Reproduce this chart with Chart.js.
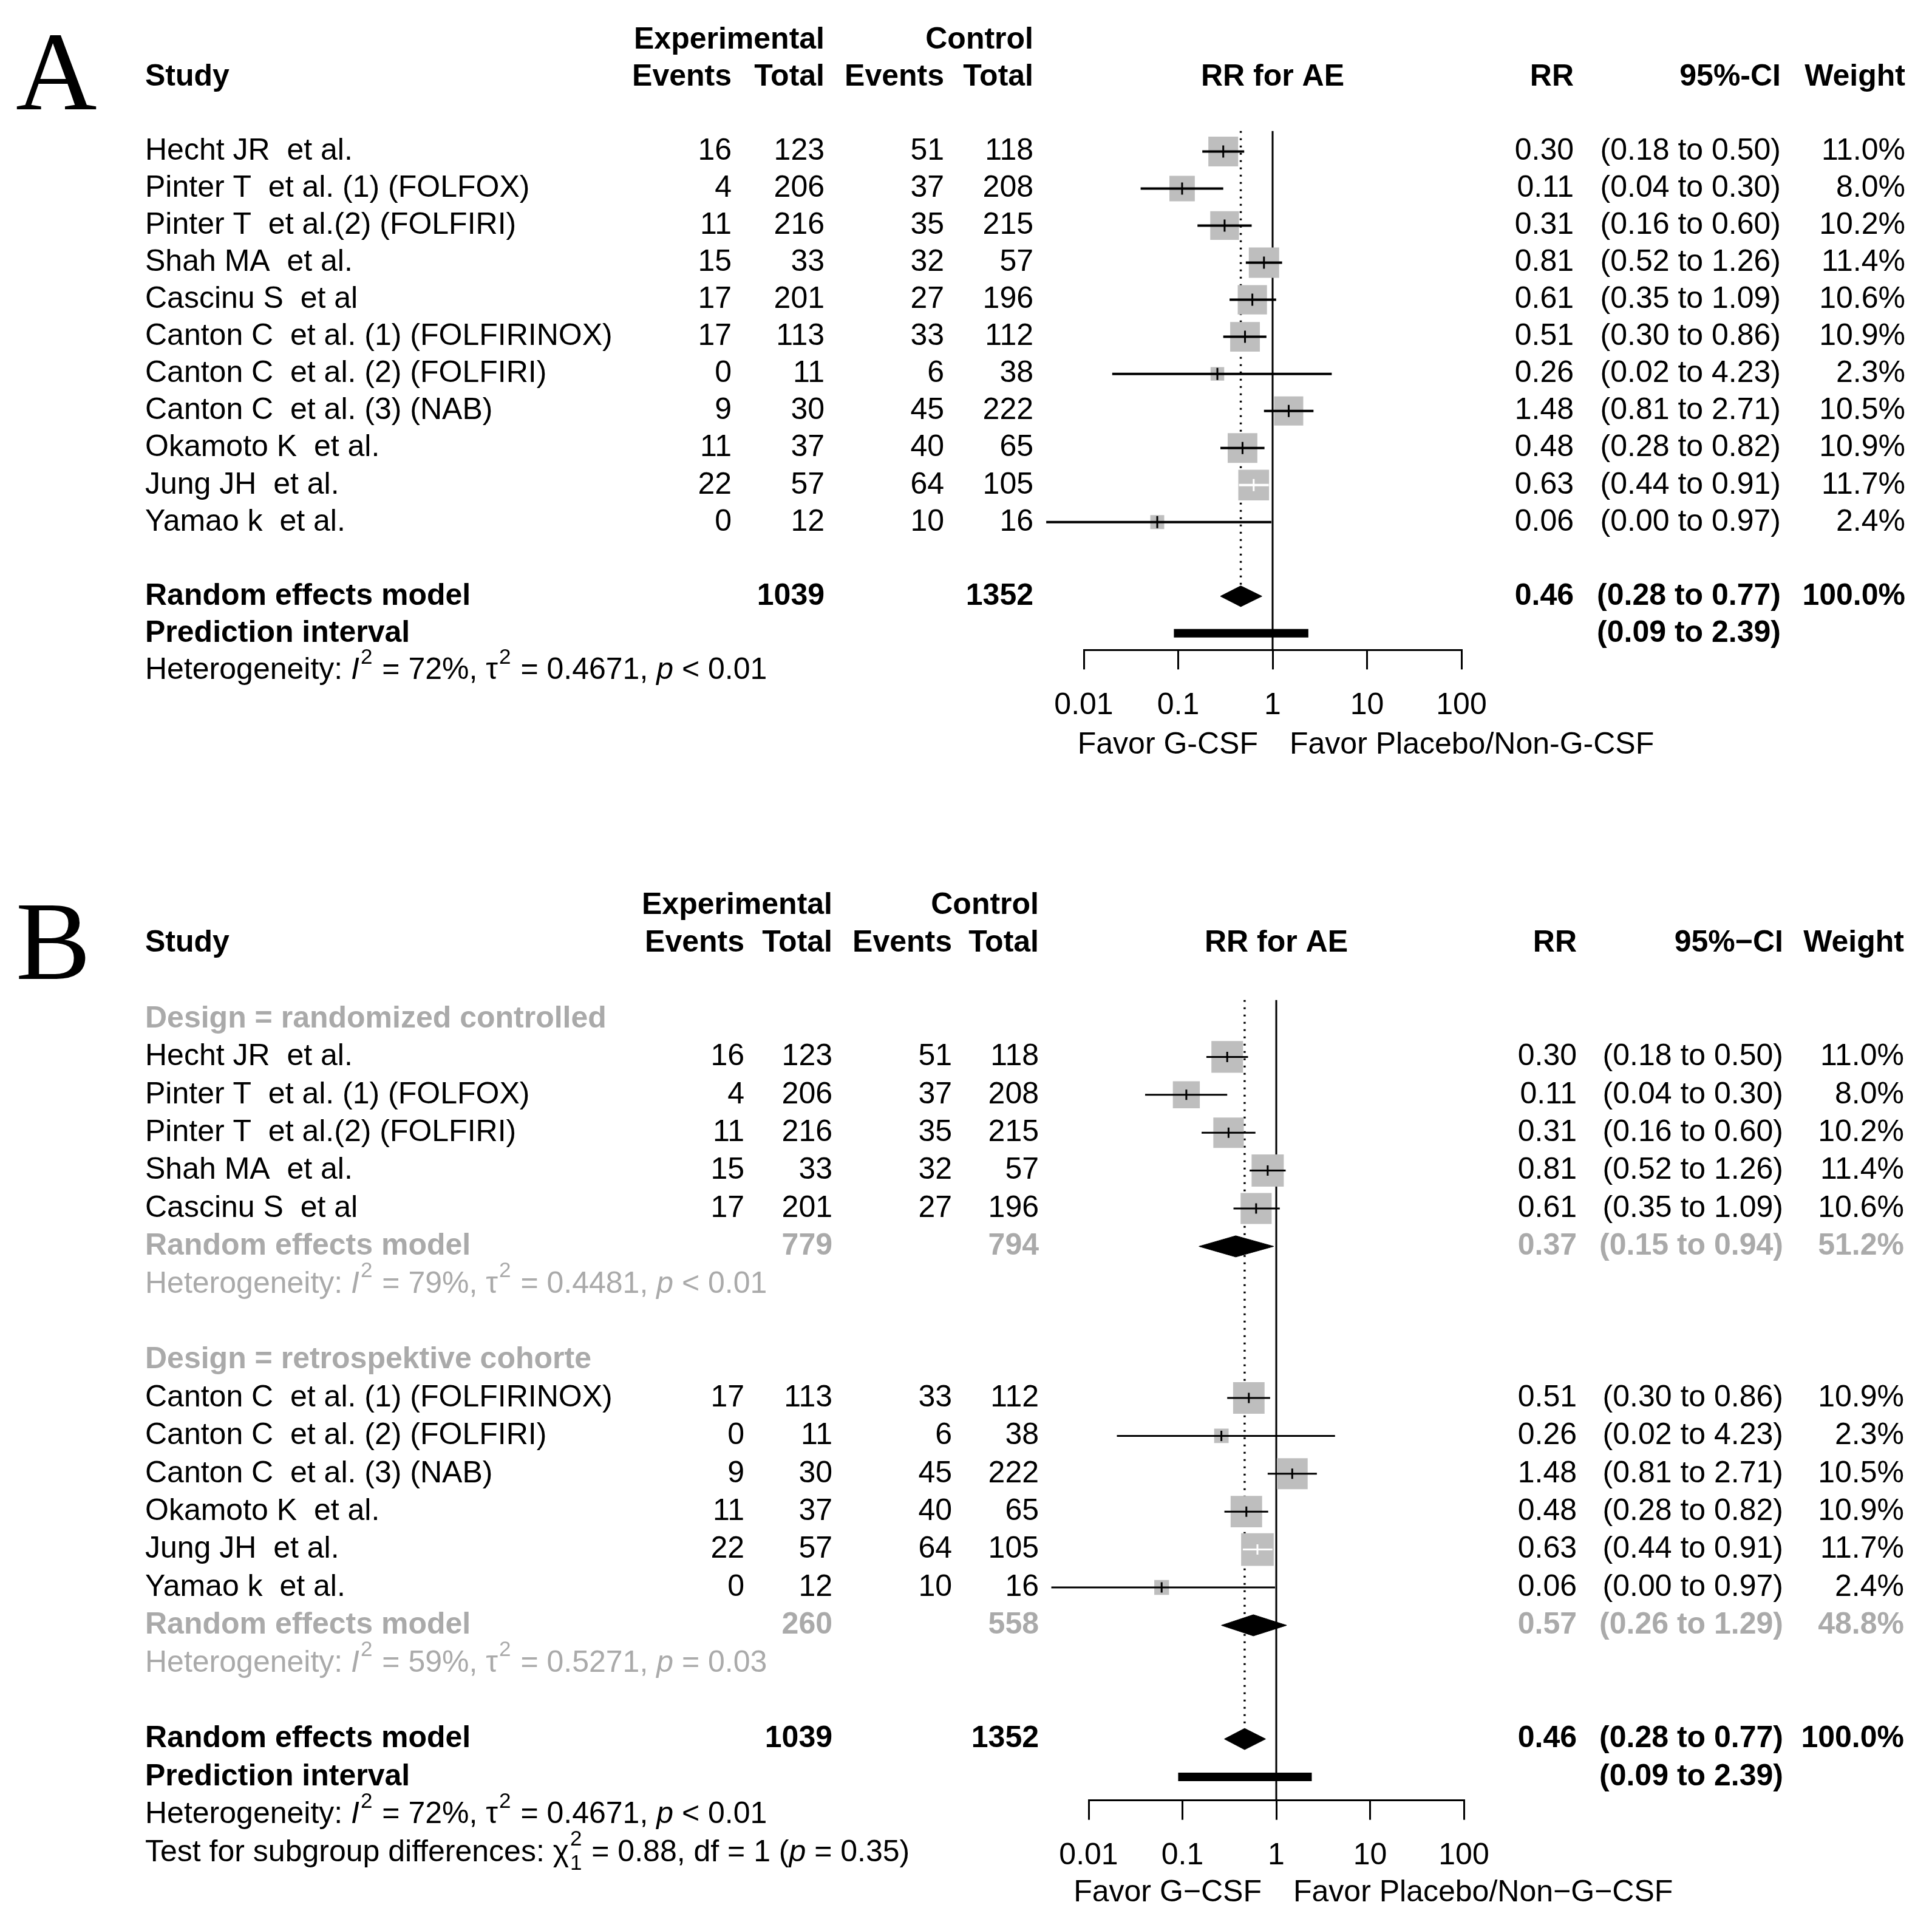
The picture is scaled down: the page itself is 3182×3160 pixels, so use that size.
<!DOCTYPE html>
<html>
<head>
<meta charset="utf-8">
<script src="https://cdn.jsdelivr.net/npm/chart.js@4.4.1/dist/chart.umd.min.js"></script>
<style>
  html, body { margin: 0; padding: 0; background: #fff; }
  canvas { position: absolute; left: 0; }
  #chart-a { top: 0; }
  #chart-b { top: 1420px; }
</style>
</head>
<body>
<canvas id="chart-a" width="3182" height="1420"></canvas>
<canvas id="chart-b" width="3182" height="1740"></canvas>
<script>
// study level data
const studies = [
	"Hecht JR  et al.",
	"Pinter T  et al. (1) (FOLFOX)",
	"Pinter T  et al.(2) (FOLFIRI)",
	"Shah MA  et al.",
	"Cascinu S  et al",
	"Canton C  et al. (1) (FOLFIRINOX)",
	"Canton C  et al. (2) (FOLFIRI)",
	"Canton C  et al. (3) (NAB)",
	"Okamoto K  et al.",
	"Jung JH  et al.",
	"Yamao k  et al.",
];
const expEvents = [16, 4, 11, 15, 17, 17, 0, 9, 11, 22, 0];
const expTotal = [123, 206, 216, 33, 201, 113, 11, 30, 37, 57, 12];
const ctrlEvents = [51, 37, 35, 32, 27, 33, 6, 45, 40, 64, 10];
const ctrlTotal = [118, 208, 215, 57, 196, 112, 38, 222, 65, 105, 16];
const rr = [0.3, 0.11, 0.31, 0.81, 0.61, 0.51, 0.26, 1.48, 0.48, 0.63, 0.06];
const ciLow = [0.18, 0.04, 0.16, 0.52, 0.35, 0.3, 0.02, 0.81, 0.28, 0.44, 0.004];
const ciHigh = [0.5, 0.3, 0.6, 1.26, 1.09, 0.86, 4.23, 2.71, 0.82, 0.91, 0.97];
const weights = [11.0, 8.0, 10.2, 11.4, 10.6, 10.9, 2.3, 10.5, 10.9, 11.7, 2.4];

// pooled results
const overallRR = 0.46;
const overallLow = 0.28;
const overallHigh = 0.77;
const predLow = 0.09;
const predHigh = 2.39;
const totalExp = 1039;
const totalCtrl = 1352;

// subgroups (panel B)
const subgroupLabels = ["Design = randomized controlled", "Design = retrospektive cohorte"];
const subgroupRR = [0.37, 0.57];
const subgroupLow = [0.15, 0.26];
const subgroupHigh = [0.94, 1.29];
const subgroupWeight = [51.2, 48.8];
const subgroupExpTotal = [779, 260];
const subgroupCtrlTotal = [794, 558];

// heterogeneity: overall, randomized, cohort
const hetI2 = ["72%", "79%", "59%"];
const hetTau2 = ["0.4671", "0.4481", "0.5271"];
const hetP = ["< 0.01", "< 0.01", "= 0.03"];
const subgroupTest = { chi2: "0.88", df: "1", p: "0.35" };

const tickValues = [0.01, 0.1, 1, 10, 100];
const tickLabels = ["0.01", "0.1", "1", "10", "100"];

const FONT = '"Liberation Sans", Arial, sans-serif';
const FS = 50;
const GREY = "#aaaaaa";
const SQUARE = "#bebebe";

const panelA = {
	canvas: "chart-a",
	letter: "A",
	letterY: 180,
	yMin: -3.5,
	yMax: 13.45,
	rowPx: 61.2,
	padTop: 33,
	height: 1420,
	left: 1785,
	right: 2407,
	studyRows: [0, 1, 2, 3, 4, 5, 6, 7, 8, 9, 10],
	overallRow: 12,
	predRow: 13,
	hetRow: 14,
	nullTop: -0.55,
	squareK: 14.8,
	tickR: 10,
	lineW: 4,
	cols: { name: 239, expEv: 1205, expTot: 1358, ctrlEv: 1555, ctrlTot: 1702, rr: 2592, ci: 2933, w: 3138 },
	dash: "-",
	favorY: 157,
};

const panelB = {
	canvas: "chart-b",
	letter: "B",
	letterY: 192,
	yMin: -3.5,
	yMax: 20.62,
	rowPx: 62.4,
	padTop: 39.6,
	height: 1740,
	left: 1793,
	right: 2411,
	studyRows: [1, 2, 3, 4, 5, 10, 11, 12, 13, 14, 15],
	labelRows: [0, 9],
	subRows: [6, 16],
	subHetRows: [7, 17],
	overallRow: 19,
	predRow: 20,
	hetRow: 21,
	testRow: 22,
	nullTop: -0.5,
	squareK: 15.7,
	tickR: 8.5,
	lineW: 3,
	cols: { name: 239, expEv: 1226, expTot: 1371, ctrlEv: 1568, ctrlTot: 1711, rr: 2597, ci: 2937, w: 3136 },
	dash: "\u2212",
	favorY: 153,
};

const DIAMOND_H = 0.28;

const fmtCI = (lo, hi) => "(" + lo.toFixed(2) + " to " + hi.toFixed(2) + ")";

function txt(ctx, s, x, y, align, bold, color) {
	ctx.save();
	ctx.font = (bold ? "bold " : "") + FS + "px " + FONT;
	ctx.fillStyle = color || "#000";
	ctx.textAlign = align;
	ctx.textBaseline = "middle";
	ctx.fillText(s, x, y);
	ctx.restore();
}

// segments: [text, kind] kind = n | i | sup | ss (sup + sub)
function richText(ctx, segs, x, y, color) {
	ctx.save();
	ctx.fillStyle = color || "#000";
	ctx.textBaseline = "middle";
	ctx.textAlign = "left";
	let cx = x;
	segs.forEach((seg) => {
		const [t, kind, t2] = seg;
		if (kind == "n" || kind == "i") {
			ctx.font = (kind == "i" ? "italic " : "") + FS + "px " + FONT;
			ctx.fillText(t, cx, y);
			cx += ctx.measureText(t).width;
		} else {
			ctx.font = Math.round(FS * 0.7) + "px " + FONT;
			ctx.fillText(t, cx + 2, y - FS * 0.42);
			let w = ctx.measureText(t).width;
			if (kind == "ss") {
				ctx.fillText(t2, cx + 2, y + FS * 0.38);
				w = Math.max(w, ctx.measureText(t2).width);
			}
			cx += w + 4;
		}
	});
	ctx.restore();
}

function hetSegs(k) {
	return [
		["Heterogeneity: ", "n"],
		["I", "i"],
		["2", "sup"],
		[" = " + hetI2[k] + ", \u03c4", "n"],
		["2", "sup"],
		[" = " + hetTau2[k] + ", ", "n"],
		["p", "i"],
		[" " + hetP[k], "n"],
	];
}

function squareSide(p, i) {
	return p.squareK * Math.sqrt(weights[i]);
}

// CI drawn white where it sits wholly inside its square
function insideColor(p, i, chart) {
	const x = chart.scales.x;
	const c = x.getPixelForValue(rr[i]);
	const half = squareSide(p, i) / 2;
	const l = x.getPixelForValue(ciLow[i]);
	const h = x.getPixelForValue(ciHigh[i]);
	return l >= c - half && h <= c + half ? "#fff" : "#000";
}

function diamond(est, lo, hi, row) {
	return {
		data: [
			{ x: lo, y: row },
			{ x: est, y: row - DIAMOND_H },
			{ x: hi, y: row },
			{ x: est, y: row + DIAMOND_H },
			{ x: lo, y: row },
		],
		showLine: true,
		fill: "shape",
		backgroundColor: "#000",
		borderColor: "#000",
		borderWidth: 1,
		pointRadius: 0,
		order: 1,
		clip: false,
	};
}

function buildDatasets(p) {
	const ds = [];
	ds.push({
		data: [{ x: 1, y: p.nullTop }, { x: 1, y: p.yMax }],
		showLine: true,
		borderColor: "#000",
		borderWidth: 3,
		pointRadius: 0,
		order: 10,
	});
	ds.push({
		data: [{ x: overallRR, y: p.nullTop }, { x: overallRR, y: p.overallRow - DIAMOND_H }],
		showLine: true,
		borderColor: "#000",
		borderWidth: 3.5,
		borderDash: [3, 9],
		pointRadius: 0,
		order: 10,
	});
	ds.push({
		data: studies.map((s, i) => ({ x: rr[i], y: p.studyRows[i] })),
		pointStyle: "rect",
		pointRadius: (ctx) => squareSide(p, ctx.dataIndex) / Math.SQRT2,
		backgroundColor: SQUARE,
		borderWidth: 0,
		order: 3,
	});
	studies.forEach((s, i) => {
		ds.push({
			data: [{ x: ciLow[i], y: p.studyRows[i] }, { x: ciHigh[i], y: p.studyRows[i] }],
			showLine: true,
			borderColor: (ctx) => insideColor(p, i, ctx.chart),
			borderWidth: p.lineW,
			pointRadius: 0,
			order: 2,
			clip: false,
		});
	});
	ds.push({
		data: studies.map((s, i) => ({ x: rr[i], y: p.studyRows[i] })),
		pointStyle: "line",
		rotation: 90,
		pointRadius: p.tickR,
		pointBorderWidth: 3,
		pointBorderColor: (ctx) => insideColor(p, ctx.dataIndex, ctx.chart),
		order: 1,
	});
	if (p.subRows) {
		p.subRows.forEach((r, k) => {
			ds.push(diamond(subgroupRR[k], subgroupLow[k], subgroupHigh[k], r));
		});
	}
	ds.push(diamond(overallRR, overallLow, overallHigh, p.overallRow));
	ds.push({
		data: [{ x: predLow, y: p.predRow }, { x: predHigh, y: p.predRow }],
		showLine: true,
		borderColor: "#000",
		borderWidth: 14,
		borderCapStyle: "butt",
		pointRadius: 0,
		order: 1,
	});
	return ds;
}

function drawPanelText(chart, p) {
	const ctx = chart.ctx;
	const Y = (r) => chart.scales.y.getPixelForValue(r);
	const X = (v) => chart.scales.x.getPixelForValue(v);
	const c = p.cols;

	ctx.save();
	ctx.font = "185px \"Liberation Serif\", \"Times New Roman\", serif";
	ctx.fillStyle = "#000";
	ctx.textBaseline = "alphabetic";
	ctx.fillText(p.letter, 26, p.letterY);
	ctx.restore();

	// headers
	txt(ctx, "Experimental", c.expTot, Y(-3), "right", true);
	txt(ctx, "Control", c.ctrlTot, Y(-3), "right", true);
	txt(ctx, "Study", c.name, Y(-2), "left", true);
	txt(ctx, "Events", c.expEv, Y(-2), "right", true);
	txt(ctx, "Total", c.expTot, Y(-2), "right", true);
	txt(ctx, "Events", c.ctrlEv, Y(-2), "right", true);
	txt(ctx, "Total", c.ctrlTot, Y(-2), "right", true);
	txt(ctx, "RR for AE", X(1), Y(-2), "center", true);
	txt(ctx, "RR", c.rr, Y(-2), "right", true);
	txt(ctx, "95%" + p.dash + "CI", c.ci, Y(-2), "right", true);
	txt(ctx, "Weight", c.w, Y(-2), "right", true);

	studies.forEach((s, i) => {
		const y = Y(p.studyRows[i]);
		txt(ctx, s, c.name, y, "left");
		txt(ctx, String(expEvents[i]), c.expEv, y, "right");
		txt(ctx, String(expTotal[i]), c.expTot, y, "right");
		txt(ctx, String(ctrlEvents[i]), c.ctrlEv, y, "right");
		txt(ctx, String(ctrlTotal[i]), c.ctrlTot, y, "right");
		txt(ctx, rr[i].toFixed(2), c.rr, y, "right");
		txt(ctx, fmtCI(ciLow[i], ciHigh[i]), c.ci, y, "right");
		txt(ctx, weights[i].toFixed(1) + "%", c.w, y, "right");
	});

	if (p.subRows) {
		p.labelRows.forEach((r, k) => {
			txt(ctx, subgroupLabels[k], c.name, Y(r), "left", true, GREY);
		});
		p.subRows.forEach((r, k) => {
			const y = Y(r);
			txt(ctx, "Random effects model", c.name, y, "left", true, GREY);
			txt(ctx, String(subgroupExpTotal[k]), c.expTot, y, "right", true, GREY);
			txt(ctx, String(subgroupCtrlTotal[k]), c.ctrlTot, y, "right", true, GREY);
			txt(ctx, subgroupRR[k].toFixed(2), c.rr, y, "right", true, GREY);
			txt(ctx, fmtCI(subgroupLow[k], subgroupHigh[k]), c.ci, y, "right", true, GREY);
			txt(ctx, subgroupWeight[k].toFixed(1) + "%", c.w, y, "right", true, GREY);
		});
		p.subHetRows.forEach((r, k) => {
			richText(ctx, hetSegs(k + 1), c.name, Y(r), GREY);
		});
	}

	const yo = Y(p.overallRow);
	txt(ctx, "Random effects model", c.name, yo, "left", true);
	txt(ctx, String(totalExp), c.expTot, yo, "right", true);
	txt(ctx, String(totalCtrl), c.ctrlTot, yo, "right", true);
	txt(ctx, overallRR.toFixed(2), c.rr, yo, "right", true);
	txt(ctx, fmtCI(overallLow, overallHigh), c.ci, yo, "right", true);
	txt(ctx, "100.0%", c.w, yo, "right", true);
	txt(ctx, "Prediction interval", c.name, Y(p.predRow), "left", true);
	txt(ctx, fmtCI(predLow, predHigh), c.ci, Y(p.predRow), "right", true);
	richText(ctx, hetSegs(0), c.name, Y(p.hetRow));
	if (p.testRow) {
		richText(ctx, [
			["Test for subgroup differences: \u03c7", "n"],
			["2", "ss", subgroupTest.df],
			[" = " + subgroupTest.chi2 + ", df = " + subgroupTest.df + " (", "n"],
			["p", "i"],
			[" = " + subgroupTest.p + ")", "n"],
		], c.name, Y(p.testRow));
	}

	// favour labels under the axis
	const fy = chart.chartArea.bottom + p.favorY;
	txt(ctx, "Favor G" + p.dash + "CSF", X(1) - 24, fy, "right");
	txt(ctx, "Favor Placebo/Non" + p.dash + "G" + p.dash + "CSF", X(1) + 28, fy, "left");
}

function makeChart(p) {
	const areaBottom = p.padTop + (p.yMax - p.yMin) * p.rowPx;
	return new Chart(document.getElementById(p.canvas), {
		type: "scatter",
		data: { datasets: buildDatasets(p) },
		options: {
			responsive: false,
			animation: false,
			devicePixelRatio: 1,
			events: [],
			layout: {
				padding: { top: p.padTop, left: p.left, right: 3182 - p.right, bottom: 0 },
			},
			scales: {
				x: {
					type: "logarithmic",
					position: "bottom",
					min: 0.01,
					max: 100,
					afterBuildTicks: (scale) => {
						scale.ticks = tickValues.map((v) => ({ value: v }));
					},
					afterFit: (scale) => {
						scale.height = p.height - areaBottom;
					},
					ticks: {
						autoSkip: false,
						maxRotation: 0,
						color: "#000",
						padding: 30,
						font: { family: "Liberation Sans", size: FS },
						callback: (value, index) => tickLabels[index],
					},
					grid: {
						drawOnChartArea: false,
						drawTicks: true,
						tickLength: 32,
						color: "#000",
						lineWidth: 3,
					},
					border: { display: true, color: "#000", width: 3 },
				},
				y: {
					type: "linear",
					display: false,
					reverse: true,
					min: p.yMin,
					max: p.yMax,
				},
			},
			plugins: {
				legend: { display: false },
				tooltip: { enabled: false },
			},
		},
		plugins: [
			{
				id: "forestText" + p.letter,
				afterDraw: (chart) => drawPanelText(chart, p),
			},
		],
	});
}

makeChart(panelA);
makeChart(panelB);
</script>
</body>
</html>
